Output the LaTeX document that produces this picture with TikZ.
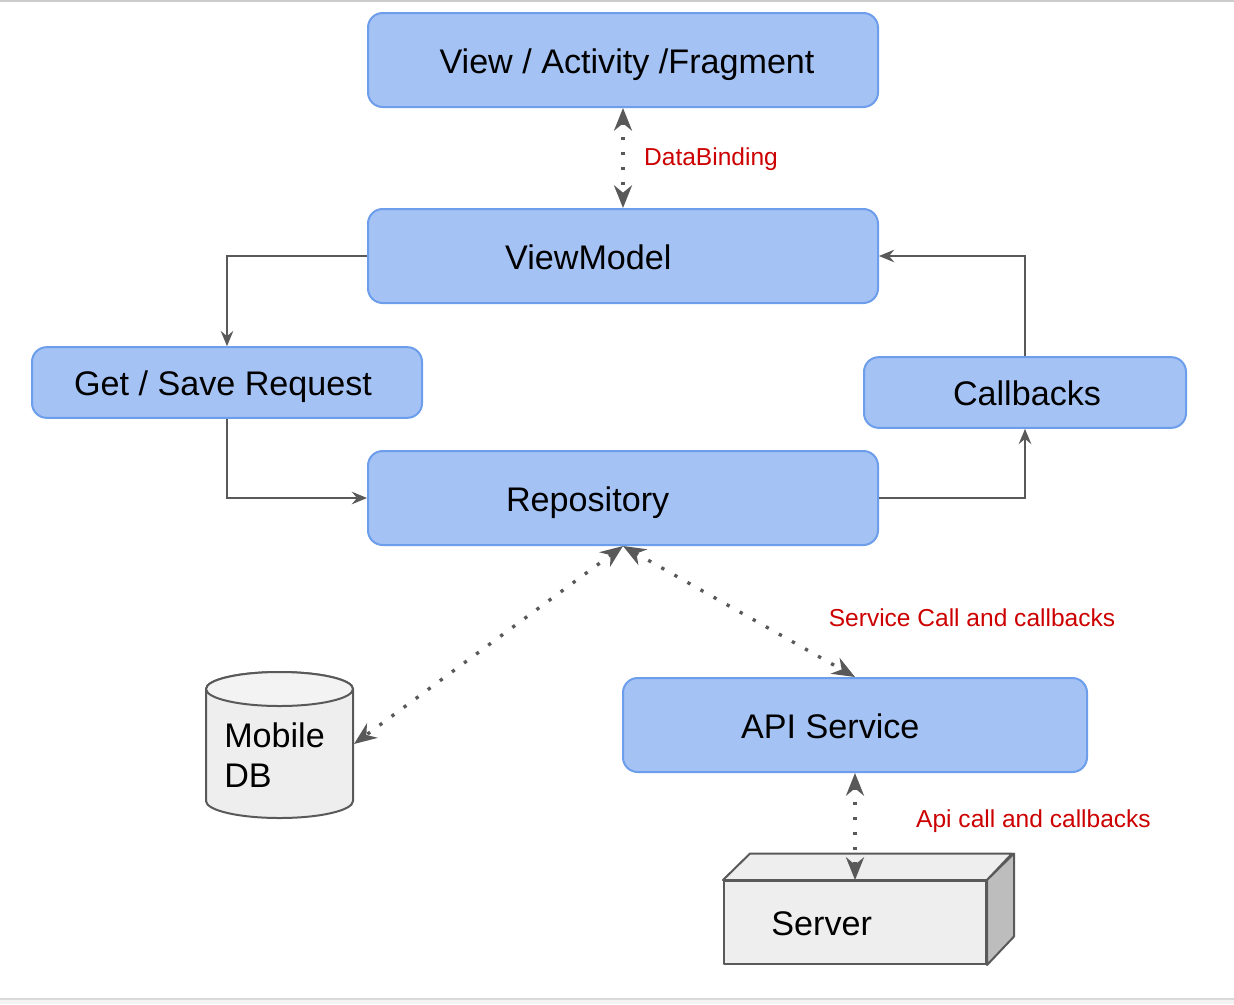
\documentclass[tikz,border=0pt]{standalone}
\usepackage{fontspec}
\setmainfont{Liberation Sans}
\usetikzlibrary{arrows.meta}
\definecolor{BoxFill}{HTML}{A4C2F4}
\definecolor{BoxEdge}{HTML}{6D9EEB}
\definecolor{Slate}{HTML}{595959}
\definecolor{Signal}{HTML}{CC0000}
\definecolor{Paper}{HTML}{EEEEEE}
\definecolor{PaperLight}{HTML}{F3F3F3}
\definecolor{PaperDark}{HTML}{BDBDBD}
\tikzset{
  bluebox/.style={draw=BoxEdge,line width=1.5pt,fill=BoxFill,rounded corners=11pt,inner sep=0pt,text height=24pt,text depth=4.5pt,font=\fontsize{25.6}{30}\selectfont},
  solidbox/.style={draw=Slate,line width=1.5pt,fill=Paper,line join=round},
  flow/.style={draw=Slate,line width=1.1pt,-{Stealth[length=11.5pt,width=9.5pt,inset=4pt]}},
  dotlink/.style={draw=Slate,line width=2.5pt,dash pattern=on 2.5pt off 8.75pt,
    {Stealth[length=17pt,width=13.5pt,inset=5.5pt]}-{Stealth[length=17pt,width=13.5pt,inset=5.5pt]}},
  redlabel/.style={text=Signal,inner sep=0pt,font=\fontsize{18.4}{22}\selectfont},
}
\begin{document}
\begin{tikzpicture}[x=0.75pt,y=-0.75pt]
  \useasboundingbox (0,0) rectangle (1234,1004);
  \fill[PaperLight] (0,998) rectangle (1234,1004);
  \fill[black!20] (0,0) rectangle (1234,2);
  \fill[black!15] (0,998) rectangle (1234,1000);

  \node[bluebox,minimum width=382.5pt,minimum height=70.5pt] (view) at (623,60) {\hspace*{6pt}View / Activity /Fragment};
  \node[bluebox,minimum width=382.5pt,minimum height=70.5pt] (viewmodel) at (623,256) {\hspace*{-52pt}ViewModel};
  \node[bluebox,minimum width=292.5pt,minimum height=53pt] (request) at (227,382.5) {\hspace*{-6pt}Get / Save Request};
  \node[bluebox,minimum width=241.5pt,minimum height=53pt] (callbacks) at (1025,392.5) {\hspace*{3pt}Callbacks};
  \node[bluebox,minimum width=382.5pt,minimum height=70.5pt] (repository) at (623,498) {\hspace*{-53pt}Repository};
  \node[bluebox,minimum width=348pt,minimum height=70.5pt] (api) at (855,725) {\hspace*{-37pt}API Service};

  % database
  \path[solidbox] (206,689) -- (206,801) arc[start angle=180,end angle=0,x radius=73.5,y radius=17]
    -- (353,689) arc[start angle=0,end angle=-180,x radius=73.5,y radius=17] -- cycle;
  \path[solidbox,fill=PaperLight] (206,689) arc[start angle=180,end angle=540,x radius=73.5,y radius=17];
  \node[align=left,inner sep=0pt,font=\fontsize{25.6}{30}\selectfont,anchor=west] (mobiledb) at (224,755) {Mobile\\DB};
  \coordinate (dbside) at (354,744);

  % server
  \node[solidbox,minimum width=196.5pt,minimum height=62.25pt,inner sep=0pt,text height=24pt,text depth=4.5pt,font=\fontsize{25.6}{30}\selectfont] (server) at (855,922.5) {\hspace*{-50pt}Server};
  \path[solidbox] (server.north west) -- ++(27,-26.5) -- ++(262,0) -- (server.north east) -- cycle;
  \path[solidbox,fill=PaperDark] (server.north east) -- ++(27,-26.5) -- ++(0,83) -- (server.south east) -- cycle;

  \path[flow] (viewmodel.west) -| (request.north);
  \path[flow] (request.south) |- (repository.west);
  \path[flow] (repository.east) -| (callbacks.south);
  \path[flow] (callbacks.north) |- (viewmodel.east);

  \path[dotlink] (view.south) -- (viewmodel.north);
  \path[dotlink] (repository.south) -- (dbside);
  \path[dotlink] (repository.south) -- (api.north);
  \path[dotlink] (api.south) -- (server.north);

  \node[redlabel] (bindinglabel) at (711,159) {DataBinding};
  \node[redlabel] (servicelabel) at (972,617.5) {Service Call and callbacks};
  \node[redlabel] (apilabel) at (1033.5,821) {Api call and callbacks};
\end{tikzpicture}
\end{document}
